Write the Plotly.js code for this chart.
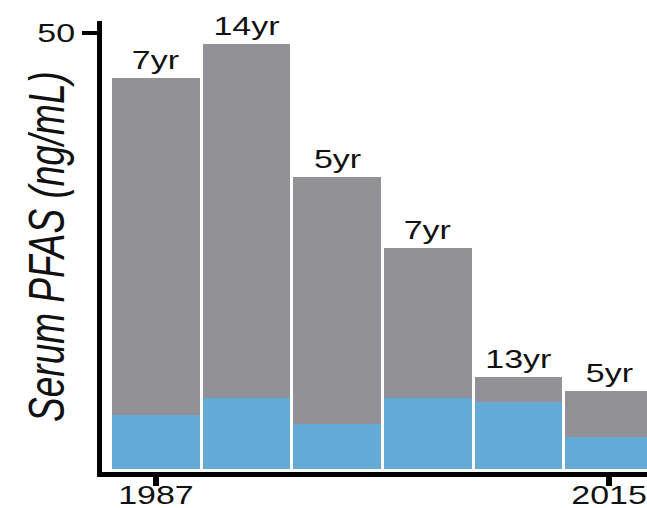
<!DOCTYPE html>
<html>
<head>
<meta charset="utf-8">
<script src="https://cdn.plot.ly/plotly-3.0.1.min.js"></script>
<style>
  html, body { margin: 0; padding: 0; background: #fff; overflow: hidden; }
  /* figure is laid out narrow and widened horizontally to the page width */
  #chart { width: 476px; height: 508px; transform: scaleX(1.3592); transform-origin: 0 0; }
</style>
</head>
<body>
<div id="chart"></div>
<script>
// Sampling rounds, left to right
const rounds = [1, 2, 3, 4, 5, 6];
// Total serum PFAS per round (ng/mL)
const totalPFAS = [44.8, 48.7, 33.5, 25.4, 10.5, 9.0];
// Portion shown in blue at the base of each bar (ng/mL)
const basePFAS = [6.2, 8.2, 5.2, 8.2, 7.7, 3.7];
// Interval labels written above the bars
const intervalLabels = ['7yr', '14yr', '5yr', '7yr', '13yr', '5yr'];
// Axis ticks
const xTickVals = [1, 6];
const xTickText = ['1987', '2015'];
const yTickVals = [50];

const upperPFAS = totalPFAS.map((t, i) => +(t - basePFAS[i]).toFixed(2));

const GRAY = '#929296';
const BLUE = '#63aad7';
const FONT = 'Liberation Sans, Arial, Helvetica, sans-serif';

const traces = [
  { type: 'bar', x: rounds, y: basePFAS, width: 0.967,
    marker: { color: BLUE, line: { width: 0 } }, hoverinfo: 'skip' },
  { type: 'bar', x: rounds, y: upperPFAS, width: 0.967,
    marker: { color: GRAY, line: { width: 0 } }, hoverinfo: 'skip' }
];

const labels = rounds.map((r, i) => ({
  x: r, y: totalPFAS[i], xref: 'x', yref: 'y',
  text: intervalLabels[i], showarrow: false,
  yanchor: 'bottom', xanchor: 'center', yshift: 2,
  font: { family: FONT, size: 25, color: '#111' }
}));

labels.push({
  xref: 'paper', yref: 'paper', x: -0.101, y: 0.5,
  xanchor: 'center', yanchor: 'middle', textangle: -90,
  text: 'Serum PFAS (ng/mL)', showarrow: false,
  font: { family: FONT, size: 37, color: '#111', style: 'italic' }
});

const layout = {
  width: 476, height: 508,
  margin: { l: 75, r: 0, t: 21, b: 36, pad: 0 },
  paper_bgcolor: '#fff', plot_bgcolor: '#fff',
  barmode: 'stack', showlegend: false,
  xaxis: {
    range: [0.404, 6.419], tickvals: xTickVals, ticktext: xTickText,
    ticks: 'outside', ticklen: 9, tickwidth: 5, tickcolor: '#000',
    ticklabelstandoff: -12,
    showline: true, linecolor: '#000', linewidth: 5,
    showgrid: false, zeroline: false,
    tickfont: { family: FONT, size: 25, color: '#111' }
  },
  yaxis: {
    range: [-0.344, 51.38], tickvals: yTickVals,
    ticks: 'outside', ticklen: 11, tickwidth: 4, tickcolor: '#000',
    showline: true, linecolor: '#000', linewidth: 3.7,
    showgrid: false, zeroline: false,
    tickfont: { family: FONT, size: 25, color: '#111' }
  },
  annotations: labels
};

Plotly.newPlot('chart', traces, layout, { displayModeBar: false, staticPlot: true });
</script>
</body>
</html>
